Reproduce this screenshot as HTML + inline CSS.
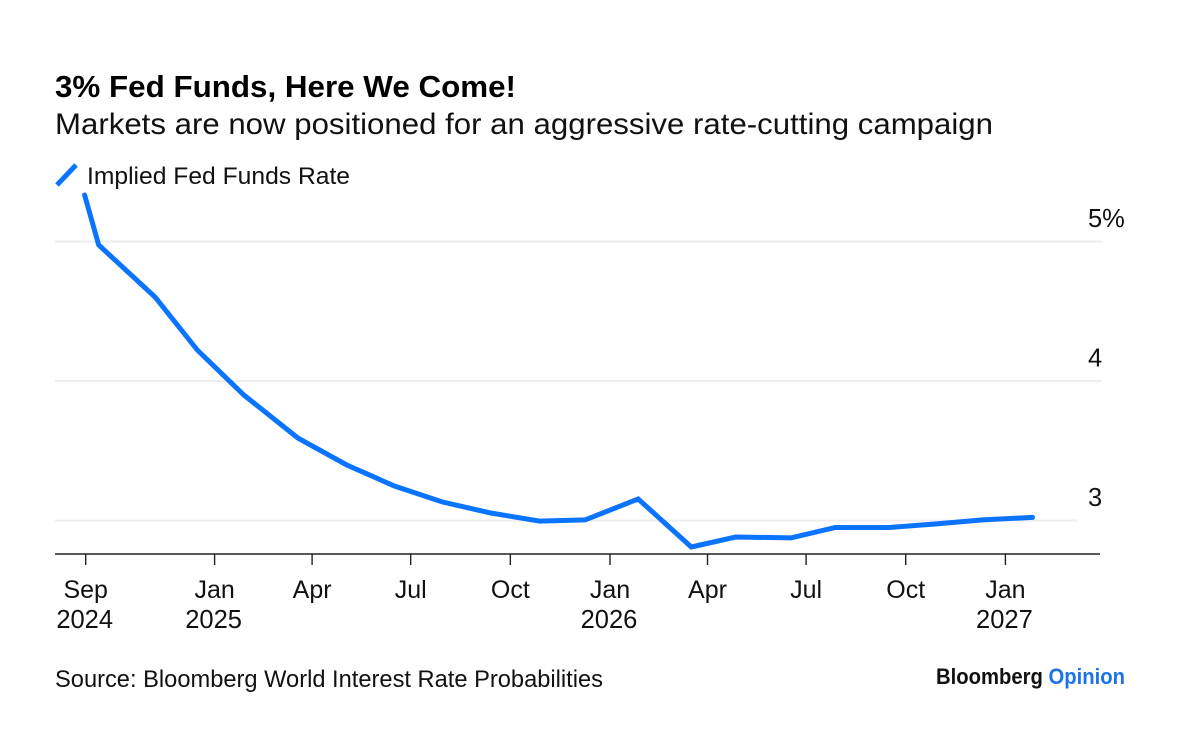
<!DOCTYPE html>
<html lang="en">
<head>
<meta charset="utf-8">
<title>3% Fed Funds, Here We Come!</title>
<style>
html,body{margin:0;padding:0;background:#fff;}
svg{display:block;font-family:"Liberation Sans",Arial,sans-serif;}
text{fill:#111;}
</style>
</head>
<body>
<svg id="chart" xmlns="http://www.w3.org/2000/svg" width="1179" height="740" viewBox="0 0 1179 740">
  <rect width="1179" height="740" fill="#fff"/>
  <text x="55" y="97" font-size="31" font-weight="700" textLength="461" lengthAdjust="spacingAndGlyphs" style="fill:#000">3% Fed Funds, Here We Come!</text>
  <text x="55" y="134" font-size="29.5" textLength="938" lengthAdjust="spacingAndGlyphs">Markets are now positioned for an aggressive rate-cutting campaign</text>
  <line x1="57" y1="185" x2="76" y2="165" stroke="#0a74ff" stroke-width="5"/>
  <text x="87" y="184" font-size="24.5" textLength="263" lengthAdjust="spacingAndGlyphs">Implied Fed Funds Rate</text>
  <g id="grid"></g>
  <g id="yticks"></g>
  <line x1="55" y1="554" x2="1100" y2="554" stroke="#222" stroke-width="1.6"/>
  <g id="xticks"></g>
  <path id="series" fill="none" stroke="#0a74ff" stroke-width="5" stroke-linejoin="miter" stroke-linecap="round"/>
  <text x="55" y="687" font-size="24" textLength="548" lengthAdjust="spacingAndGlyphs">Source: Bloomberg World Interest Rate Probabilities</text>
  <text x="936" y="684" font-size="22" font-weight="700" textLength="189" lengthAdjust="spacingAndGlyphs" style="fill:#111">Bloomberg <tspan style="fill:#1a73e8">Opinion</tspan></text>
</svg>
<script>
const dates = ['2024-09-03','2024-09-16','2024-11-07','2024-12-16','2025-01-28','2025-03-19','2025-05-03','2025-06-16','2025-07-30','2025-09-13','2025-10-28','2025-12-09','2026-01-27','2026-03-17','2026-04-27','2026-06-17','2026-07-28','2026-09-15','2026-10-28','2026-12-11','2027-01-26'];
const rates = [5.333,4.975,4.602,4.222,3.900,3.591,3.398,3.247,3.133,3.054,2.996,3.004,3.154,2.810,2.882,2.875,2.950,2.950,2.975,3.004,3.022];
const xTickDates = ['2024-09-04','2025-01-01','2025-04-01','2025-07-01','2025-10-01','2026-01-01','2026-04-01','2026-07-01','2026-10-01','2027-01-01'];
const xTickMonths = ['Sep','Jan','Apr','Jul','Oct','Jan','Apr','Jul','Oct','Jan'];
const xTickYears = ['2024','2025','','','','2026','','','','2027'];
const yTickValues = [5,4,3];
const yTickLabels = ['5%','4','3'];

const NS = 'http://www.w3.org/2000/svg';
const DAY = 86400000;
const origin = Date.UTC(2025,0,1);
function xScale(d){ return 214.6 + (Date.parse(d + 'T00:00:00Z') - origin) / DAY * 1.0833; }
function yScale(v){ return 241.5 + (5 - v) * 139.5; }

document.getElementById('series').setAttribute('d',
  dates.map(function(d,i){ return (i ? 'L' : 'M') + xScale(d).toFixed(1) + ' ' + yScale(rates[i]).toFixed(1); }).join(' '));

const grid = document.getElementById('grid');
const yticks = document.getElementById('yticks');
yTickValues.forEach(function(v,i){
  const y = yScale(v);
  const line = document.createElementNS(NS,'line');
  
  
  line.setAttribute('x1', 55);
  line.setAttribute('x2', v === 3 ? 1077 : 1102);
  line.setAttribute('y1', y);
  line.setAttribute('y2', y);
  line.setAttribute('stroke', '#eeeeee');
  line.setAttribute('stroke-width', 2);
  grid.appendChild(line);
  const label = document.createElementNS(NS,'text');
  
  
  label.setAttribute('x', 1088);
  label.setAttribute('y', y - 14.5);
  label.setAttribute('font-size', 25.5);
  label.textContent = yTickLabels[i];
  yticks.appendChild(label);
});

const xticks = document.getElementById('xticks');
xTickDates.forEach(function(d,i){
  const x = xScale(d);
  const tick = document.createElementNS(NS,'line');
  
  
  tick.setAttribute('x1', x);
  tick.setAttribute('x2', x);
  tick.setAttribute('y1', 554);
  tick.setAttribute('y2', 565);
  tick.setAttribute('stroke', '#222');
  tick.setAttribute('stroke-width', 1.4);
  xticks.appendChild(tick);
  const month = document.createElementNS(NS,'text');
  
  
  month.setAttribute('x', x);
  month.setAttribute('y', 598);
  month.setAttribute('font-size', 25);
  month.setAttribute('text-anchor', 'middle');
  month.textContent = xTickMonths[i];
  xticks.appendChild(month);
  if (xTickYears[i]) {
    const year = document.createElementNS(NS,'text');
    
    
    year.setAttribute('x', x - 1);
    year.setAttribute('y', 628);
    year.setAttribute('font-size', 25.5);
    year.setAttribute('text-anchor', 'middle');
    year.textContent = xTickYears[i];
    xticks.appendChild(year);
  }
});
</script>
</body>
</html>
